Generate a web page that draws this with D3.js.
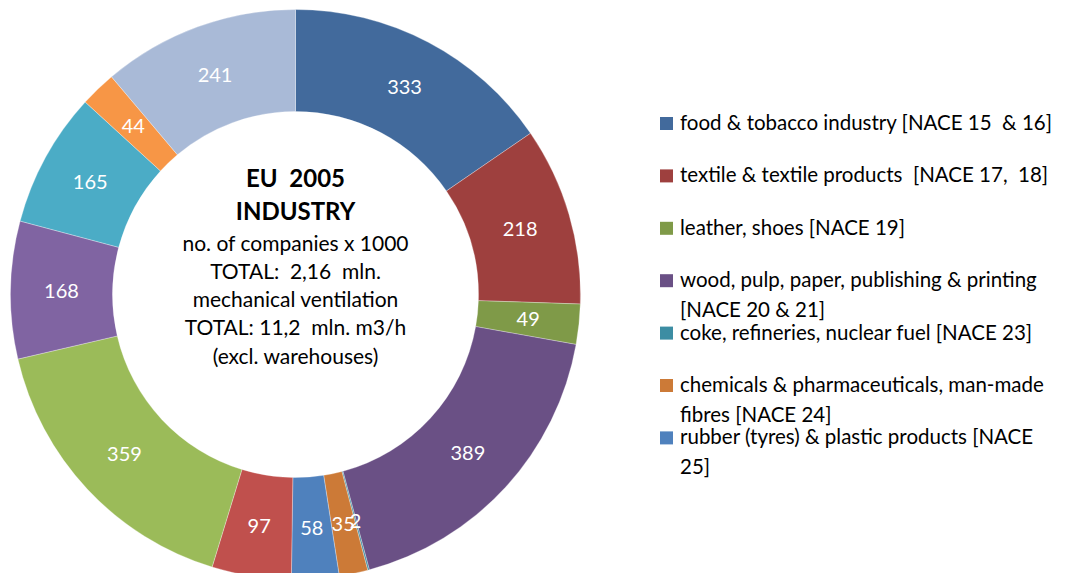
<!DOCTYPE html>
<html>
<head>
<meta charset="utf-8">
<script src="https://cdn.jsdelivr.net/npm/d3@7"></script>
<style>
  body { margin: 0; background: #fff; }
  svg { display: block; font-family: Lato, "Open Sans", sans-serif; }
  svg text { white-space: pre; }
</style>
</head>
<body>
<div class="donut-container"></div>
<script>
// slice values, clockwise from 12 o'clock (no. of companies x 1000)
const values = [333, 218, 49, 389, 2, 35, 58, 97, 359, 168, 165, 44, 241];
const colors = ['#426a9c', '#9e403e', '#7f9a48', '#6a5085', '#3c8da3', '#cc7a37',
                '#4f81bd', '#c0504d', '#9bbb59', '#8064a2', '#4bacc6', '#f79646', '#a9bad7'];
// legend (only the first 7 series are shown)
const legendLines = [
  ['food & tobacco industry [NACE 15  & 16]'],
  ['textile & textile products  [NACE 17,  18]'],
  ['leather, shoes [NACE 19]'],
  ['wood, pulp, paper, publishing & printing', '[NACE 20 & 21]'],
  ['coke, refineries, nuclear fuel [NACE 23]'],
  ['chemicals & pharmaceuticals, man-made', 'fibres [NACE 24]'],
  ['rubber (tyres) & plastic products [NACE', '25]']
];
const legendColors = ['#426a9c', '#9e403e', '#7f9a48', '#6a5085', '#3c8da3', '#cc7a37', '#4f81bd'];
const titleLines = ['EU  2005', 'INDUSTRY'];
const subLines = ['no. of companies x 1000', 'TOTAL:  2,16  mln.', 'mechanical ventilation',
                  'TOTAL: 11,2  mln. m3/h', '(excl. warehouses)'];

const width = 1082, height = 573;
const cx = 295.5, cy = 294.5;
const outerR = 285, innerR = 183;

const svg = d3.select('.donut-container').append('svg')
  .attr('width', width).attr('height', height);

const g = svg.append('g').attr('transform', `translate(${cx},${cy})`);

const pie = d3.pie().sort(null).value(d => d);
const arc = d3.arc().innerRadius(innerR).outerRadius(outerR);
const arcs = pie(values);

g.selectAll('.slice')
  .data(arcs).enter().append('path').attr('class', 'slice')
  .attr('d', arc)
  .style('fill', (d, i) => colors[i])
  .style('stroke', '#ffffff').style('stroke-width', 0.6).style('stroke-opacity', 0.5);

g.selectAll('.val')
  .data(arcs).enter().append('text').attr('class', 'val')
  .attr('transform', d => `translate(${arc.centroid(d)})`)
  .attr('text-anchor', 'middle').attr('dy', '0.35em')
  .style('fill', '#fff').style('font-size', '20px')
  .text(d => d.data);

// centre text
const center = g.append('text').attr('text-anchor', 'middle').style('fill', '#000');
titleLines.forEach((t, i) => {
  center.append('tspan').attr('x', 0).attr('y', -108 + i * 33)
    .style('font-weight', 'bold').style('font-size', '24px').text(t);
});
subLines.forEach((t, i) => {
  center.append('tspan').attr('x', 0).attr('y', -44 + i * 28.3)
    .style('font-size', '21px').text(t);
});

// legend
const legend = svg.append('g').attr('class', 'legend').attr('transform', 'translate(660,130)');
const items = legend.selectAll('.item')
  .data(legendLines).enter().append('g').attr('class', 'item')
  .attr('transform', (d, i) => `translate(0,${i * 52.4})`);
items.append('rect')
  .attr('x', 0).attr('y', -13).attr('width', 13).attr('height', 13)
  .style('fill', (d, i) => legendColors[i]);
items.append('text')
  .style('font-size', '20.5px').style('fill', '#000')
  .selectAll('tspan').data(d => d).enter().append('tspan')
  .attr('x', 20).attr('y', (d, j) => j * 30)
  .text(d => d);
</script>
</body>
</html>
